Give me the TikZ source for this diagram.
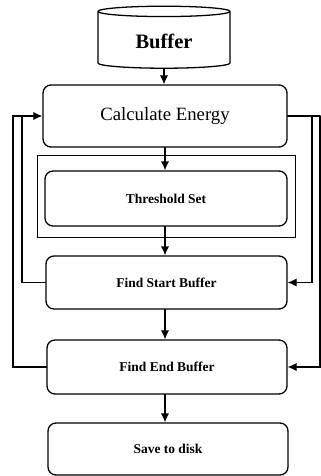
\documentclass[tikz,border=0pt]{standalone}
\usepackage{fontspec}
\setmainfont{Liberation Serif}
\usetikzlibrary{arrows.meta, calc, shapes.geometric}

\def\px{0.3mm}

\tikzset{
  stepbox/.style={draw, rounded corners=2.4mm, line width=1.1pt, align=center,
    font=\bfseries\fontsize{11.5}{13}\selectfont},
  flow/.style={line width=1.1pt, -{Latex[length=2.7mm, width=2.5mm]}},
  back/.style={line width=1.1pt},
}

\begin{document}
\begin{tikzpicture}[x=0.03cm, y=-0.03cm, line cap=round]
	\useasboundingbox (0,0) rectangle (321,476);

	\node[cylinder, shape border rotate=90, draw, line width=1.1pt, aspect=0.16,
	  minimum width=132*\px, minimum height=62*\px,
	  font=\bfseries\fontsize{17.5}{19}\selectfont] (buffer) at (164,41) {Buffer};

	\node[stepbox, minimum width=244*\px, minimum height=62*\px,
	  font=\fontsize{16}{18}\selectfont] (calc) at (165,116) {Calculate Energy};

	\node[draw, line width=0.8pt, minimum width=258*\px, minimum height=82*\px] (frame) at (166,196) {};
	\node[stepbox, minimum width=242*\px, minimum height=55*\px] (thresh) at (166,198.5) {Threshold Set};

	\node[stepbox, minimum width=241*\px, minimum height=53*\px] (start) at (166.5,282.5) {Find Start Buffer};
	\node[stepbox, minimum width=240*\px, minimum height=54*\px] (end) at (167,367) {Find End Buffer};
	\node[stepbox, minimum width=240*\px, minimum height=52*\px] (save) at (168,449) {Save to disk};

	% straight down
	\draw[flow] (buffer.south) -- (buffer.south |- calc.north);
	\draw[flow] (calc.south) -- (calc.south |- thresh.north);
	\draw[flow] (calc.south |- thresh.south) -- (calc.south |- start.north);
	\draw[flow] (calc.south |- start.south) -- (calc.south |- end.north);
	\draw[flow] (calc.south |- end.south) -- (calc.south |- save.north);

	% loops back
	\coordinate (l1) at (22,0);
	\coordinate (l2) at (13,0);
	\coordinate (r1) at (312,0);
	\coordinate (r2) at (320,0);

	\draw[back] (start.west) -| (l1 |- calc.west);
	\draw[flow] (end.west) -| (l2 |- calc.west) -- (calc.west);
	\draw[back] (calc.east) -- (r2 |- calc.east);
	\draw[flow] (r1 |- calc.east) |- (start.east);
	\draw[flow] (r2 |- calc.east) |- (end.east);
\end{tikzpicture}
\end{document}
